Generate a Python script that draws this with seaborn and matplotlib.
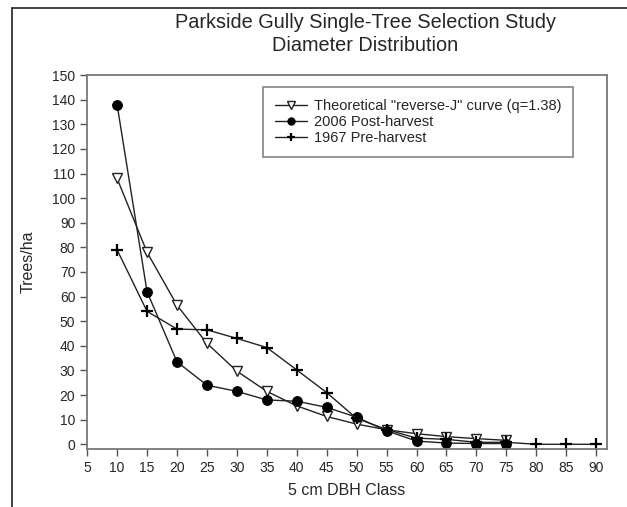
import pandas as pd
import matplotlib.pyplot as plt
import seaborn as sns
from matplotlib.lines import Line2D

# diameter classes (cm) and trees per hectare
dbh_theory = [10, 15, 20, 25, 30, 35, 40, 45, 50, 55, 60, 65, 70, 75]
trees_theory = [108, 78, 56.5, 41, 29.7, 21.5, 15.6, 11.3, 8.2, 5.9, 4.3, 3.1, 2.3, 1.6]

dbh_2006 = [10, 15, 20, 25, 30, 35, 40, 45, 50, 55, 60, 65, 70, 75]
trees_2006 = [138, 62, 33.5, 24, 21.5, 18, 17.5, 15, 11, 5.5, 1.3, 0.5, 0.3, 0.3]

dbh_1967 = [10, 15, 20, 25, 30, 35, 40, 45, 50, 55, 60, 65, 70, 75, 80, 85, 90]
trees_1967 = [79, 54, 46.8, 46.5, 43, 39.3, 30.2, 21, 10.5, 6, 2.5, 2, 0.8, 0.8, 0, 0, 0]

labels = ['Theoretical "reverse-J" curve (q=1.38)', '2006 Post-harvest', '1967 Pre-harvest']

sns.set_style('white')
plt.rcParams['font.family'] = ['Liberation Sans', 'DejaVu Sans']

fig = plt.figure(figsize=(6.27, 5.07), dpi=100)
ax = fig.add_axes([0.139, 0.114, 0.829, 0.738])

df_t = pd.DataFrame({'dbh': dbh_theory, 'trees': trees_theory})
df_p = pd.DataFrame({'dbh': dbh_2006, 'trees': trees_2006})
df_o = pd.DataFrame({'dbh': dbh_1967, 'trees': trees_1967})

sns.lineplot(data=df_t, x='dbh', y='trees', ax=ax, color='#222222', lw=1,
             marker='v', markersize=7, markerfacecolor='white',
             markeredgecolor='#222222', markeredgewidth=1, label=labels[0])
sns.lineplot(data=df_p, x='dbh', y='trees', ax=ax, color='#222222', lw=1,
             marker='o', markersize=7, markerfacecolor='black',
             markeredgecolor='black', label=labels[1])
sns.lineplot(data=df_o, x='dbh', y='trees', ax=ax, color='#222222', lw=1,
             marker='+', markersize=8, markeredgewidth=1.6,
             markeredgecolor='black', label=labels[2])

ax.set_xlim(5, 91.8)
ax.set_ylim(-2, 150)
ax.set_xticks(range(5, 95, 5))
ax.set_yticks(range(0, 160, 10))
ax.tick_params(axis='both', direction='out', length=5, width=1, color='#555555',
               labelsize=10, bottom=True, left=True)
for s in ax.spines.values():
    s.set_color('#777777')
    s.set_linewidth(1.3)

ax.set_xlabel('5 cm DBH Class', fontsize=11.5, labelpad=6)
ax.set_ylabel('Trees/ha', fontsize=11.5, labelpad=12)

fig.text(0.583, 0.955, 'Parkside Gully Single-Tree Selection Study',
         ha='center', va='center', fontsize=14.3)
fig.text(0.583, 0.91, 'Diameter Distribution', ha='center', va='center', fontsize=14.3)

leg = ax.legend(loc='upper right', bbox_to_anchor=(0.935, 0.968), borderaxespad=0,
                fontsize=10.5, frameon=True, fancybox=False, edgecolor='#666666',
                handlelength=2.2, handletextpad=0.5, labelspacing=0.15,
                borderpad=0.8, markerscale=0.75)
leg.get_frame().set_linewidth(1.2)

# page frame lines (left and top)
fig.add_artist(Line2D([12 / 627, 12 / 627], [0, 1 - 8 / 507], color='#222222', lw=1.2,
                      transform=fig.transFigure))
fig.add_artist(Line2D([12 / 627, 1], [1 - 8 / 507, 1 - 8 / 507], color='#222222', lw=1.2,
                      transform=fig.transFigure))

fig.savefig('out.png', dpi=100)
